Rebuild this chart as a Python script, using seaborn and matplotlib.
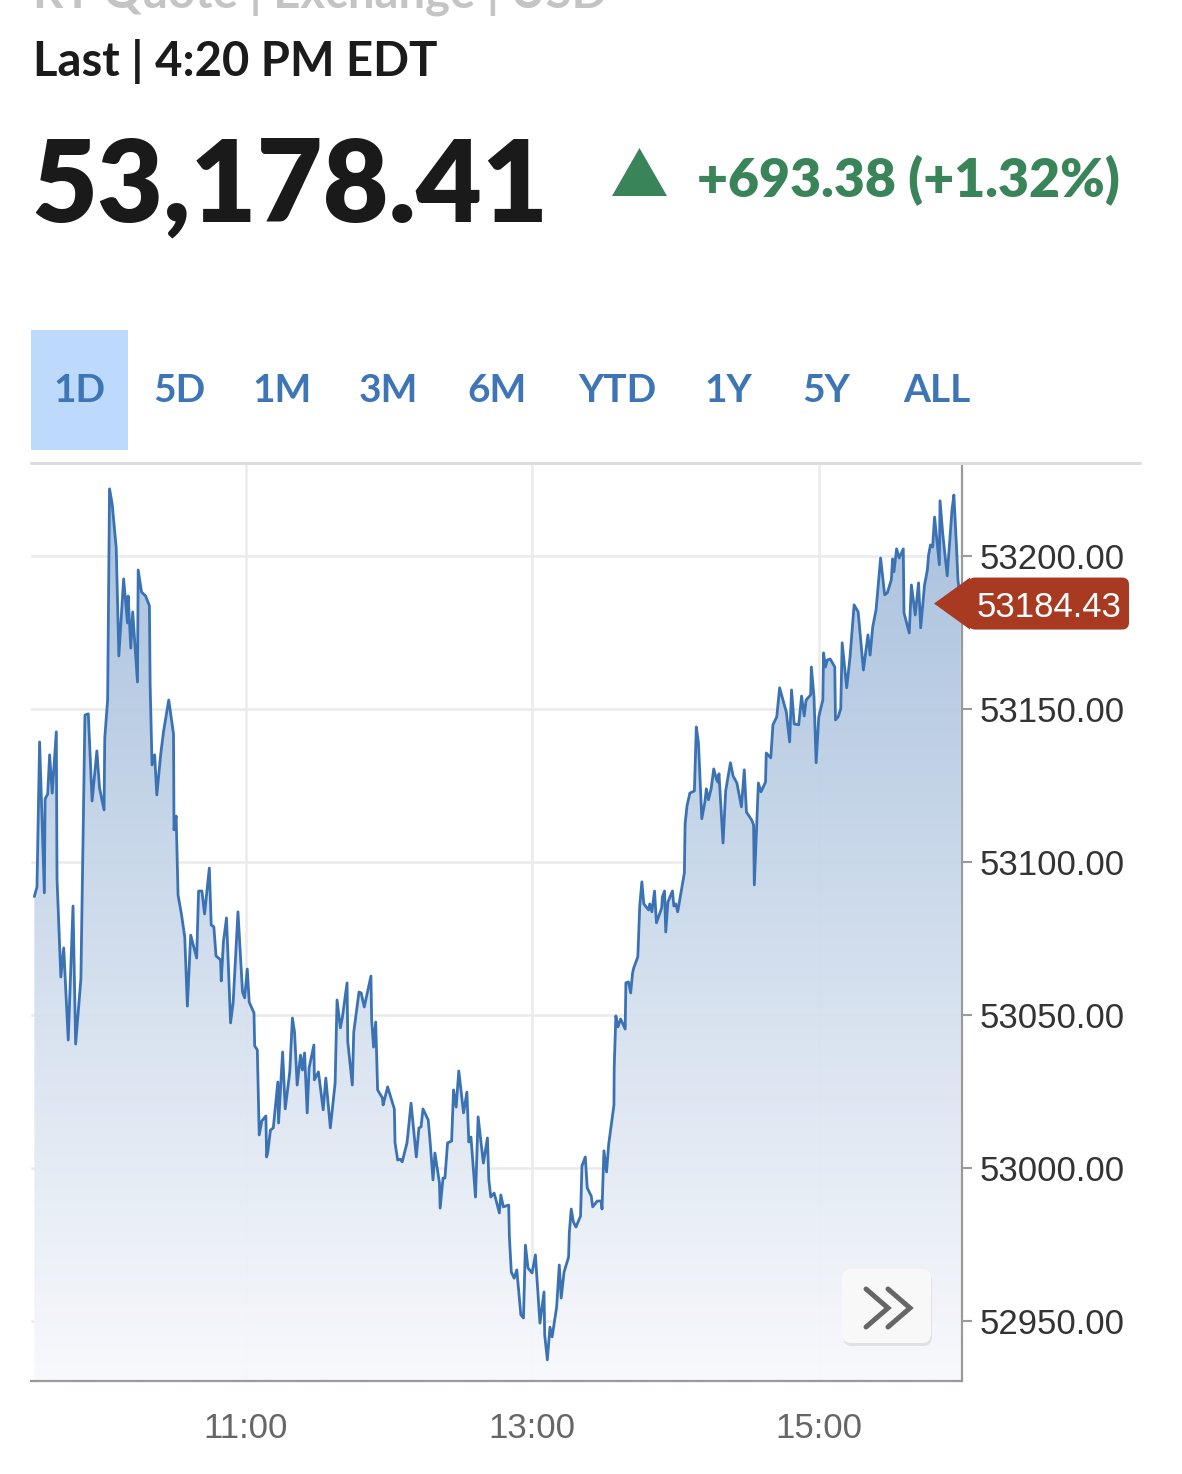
import numpy as np
import pandas as pd
import matplotlib
matplotlib.use("Agg")
import matplotlib.pyplot as plt
from matplotlib.patches import Polygon, FancyBboxPatch, Rectangle
from matplotlib.lines import Line2D
from matplotlib.transforms import IdentityTransform
import seaborn as sns

sns.set_style("white")
plt.rcParams['font.family'] = ['Liberation Sans', 'DejaVu Sans']

# --- data ---
open_minute = 570  # 9:30
minutes_after_open = [
    1.4, 2.5, 3.6, 5.6, 5.9, 7.0, 7.8, 8.9, 10.6, 10.9,
    12.5, 13.7, 15.6, 17.6, 18.7, 20.9, 22.6, 24.0, 25.6, 27.6,
    28.7, 30.6, 30.9, 32.1, 32.9, 34.0, 35.7, 36.8, 38.8, 40.4,
    40.7, 41.8, 42.6, 44.6, 44.9, 46.3, 48.0, 49.6, 49.9, 50.7,
    51.8, 52.7, 54.4, 55.5, 57.7, 59.7, 59.9, 60.8, 61.6, 63.0,
    64.4, 65.5, 66.9, 69.4, 70.2, 71.6, 72.7, 74.7, 75.5, 76.6,
    77.5, 79.4, 79.7, 80.6, 81.9, 83.6, 84.7, 86.7, 88.6, 89.5,
    90.6, 91.4, 93.4, 93.7, 94.8, 95.6, 96.7, 98.4, 98.7, 99.2,
    100.3, 101.5, 103.4, 103.7, 105.4, 106.5, 108.4, 109.5, 110.4, 111.5,
    112.9, 113.7, 114.6, 115.7, 116.5, 118.5, 118.7, 120.4, 122.4, 123.5,
    125.4, 127.4, 128.2, 129.6, 130.4, 132.4, 132.7, 134.6, 135.2, 137.4,
    138.3, 139.6, 142.4, 142.7, 143.5, 144.4, 145.2, 147.2, 147.5, 149.4,
    152.2, 152.5, 153.6, 154.7, 155.5, 157.5, 158.0, 159.2, 160.3, 161.4,
    162.5, 163.4, 164.2, 166.4, 167.2, 168.4, 169.2, 171.1, 171.4, 172.6,
    173.4, 174.5, 176.2, 177.0, 178.1, 179.2, 181.2, 182.6, 183.4, 184.3,
    186.2, 187.3, 189.5, 191.2, 191.8, 192.6, 194.0, 194.8, 196.2, 196.8,
    197.9, 200.1, 200.4, 201.2, 202.4, 203.5, 205.2, 206.3, 207.1, 208.2,
    209.9, 211.3, 213.2, 214.9, 215.2, 216.3, 217.4, 218.3, 220.2, 221.3,
    222.1, 223.3, 225.2, 225.5, 226.3, 227.2, 228.3, 230.2, 230.8, 232.2,
    233.0, 234.7, 235.3, 237.2, 238.9, 239.2, 240.0, 241.1, 242.0, 244.2,
    244.3, 245.0, 245.9, 247.0, 248.9, 249.2, 250.3, 251.2, 252.0, 252.5,
    254.2, 255.0, 255.9, 256.7, 258.7, 259.2, 260.1, 261.2, 262.0, 264.2,
    264.5, 265.4, 265.9, 266.8, 268.7, 269.3, 270.1, 270.9, 273.7, 274.0,
    274.8, 276.0, 277.9, 278.7, 279.6, 281.0, 282.3, 282.9, 283.8, 284.9,
    286.0, 287.1, 287.7, 288.2, 289.9, 291.0, 293.0, 294.1, 295.7, 297.6,
    298.8, 299.7, 301.9, 302.7, 303.0, 304.7, 305.8, 307.7, 308.0, 309.9,
    310.8, 312.4, 313.6, 316.4, 317.8, 318.6, 319.7, 321.6, 322.8, 323.9,
    324.7, 326.6, 326.9, 328.0, 328.9, 330.0, 331.7, 332.0, 332.8, 333.6,
    334.8, 336.7, 337.0, 338.1, 339.2, 339.8, 341.7, 343.1, 344.8, 346.5,
    348.7, 350.6, 351.5, 352.6, 354.0, 355.9, 357.6, 358.7, 360.4, 360.9,
    361.5, 362.6, 363.7, 365.4, 365.7, 367.9, 368.8, 370.4, 371.8, 372.7,
    374.3, 375.5, 376.0, 376.8, 377.7, 378.5, 380.5, 380.8, 381.9, 383.8,
    385.8, 386.6, 387.7, 388.3, 389.5,
]
price = [
    53088.7, 53091.8, 53139.2, 53089.9, 53120.6, 53122.2, 53135.0, 53122.5, 53142.5, 53094.4,
    53062.4, 53071.9, 53041.8, 53085.6, 53040.5, 53061.8, 53148.0, 53148.4, 53119.9, 53136.3,
    53124.2, 53117.0, 53140.5, 53152.9, 53221.9, 53217.0, 53202.6, 53167.3, 53192.5, 53178.1,
    53186.9, 53169.9, 53181.7, 53158.8, 53195.4, 53188.2, 53186.9, 53183.7, 53158.2, 53131.7,
    53135.0, 53121.9, 53135.6, 53142.5, 53152.9, 53141.8, 53110.5, 53115.0, 53089.2, 53083.0,
    53075.5, 53052.9, 53076.1, 53068.6, 53090.5, 53090.5, 53083.0, 53098.0, 53079.4, 53078.8,
    53069.3, 53068.0, 53061.1, 53073.9, 53081.7, 53047.4, 53054.2, 53083.7, 53057.5, 53055.6,
    53065.0, 53054.2, 53050.7, 53039.9, 53038.6, 53010.8, 53015.4, 53017.0, 53003.6, 53005.2,
    53012.4, 53013.1, 53028.1, 53014.7, 53037.9, 53019.3, 53031.4, 53049.0, 53044.4, 53027.1,
    53036.9, 53032.0, 53037.6, 53018.0, 53032.7, 53040.2, 53028.8, 53031.4, 53019.0, 53029.4,
    53013.1, 53027.8, 53054.9, 53045.8, 53049.0, 53060.5, 53041.2, 53027.1, 53044.4, 53057.5,
    53057.2, 53052.6, 53062.7, 53048.4, 53039.5, 53047.7, 53025.5, 53022.9, 53020.6, 53026.5,
    53019.3, 53008.2, 53002.6, 53002.9, 53002.0, 53008.2, 53011.8, 53021.2, 53012.4, 53003.6,
    53013.1, 53013.4, 53019.3, 53015.7, 53008.5, 52996.1, 53004.9, 52995.1, 52986.9, 52996.7,
    52996.7, 53008.2, 53008.8, 53025.5, 53019.9, 53031.7, 53018.0, 53024.8, 53008.5, 53010.1,
    52990.5, 53016.7, 53001.6, 53009.8, 52996.1, 52990.5, 52991.8, 52989.5, 52985.3, 52991.2,
    52987.3, 52987.9, 52977.5, 52966.0, 52964.0, 52966.7, 52952.0, 52951.0, 52974.8, 52967.3,
    52965.7, 52971.6, 52949.3, 52959.5, 52945.4, 52937.3, 52948.0, 52944.8, 52954.6, 52968.3,
    52957.5, 52966.0, 52970.9, 52978.8, 52986.6, 52982.4, 52980.7, 52984.3, 53000.7, 53003.6,
    52993.5, 52990.8, 52987.3, 52989.2, 52989.2, 52986.6, 53005.6, 52998.7, 53007.8, 53020.6,
    53032.7, 53049.7, 53046.1, 53048.7, 53045.4, 53060.5, 53060.8, 53057.2, 53063.7, 53065.4,
    53069.0, 53085.6, 53093.5, 53086.3, 53084.3, 53086.3, 53083.7, 53090.5, 53080.1, 53085.0,
    53088.6, 53090.5, 53077.1, 53086.9, 53090.5, 53085.6, 53086.3, 53083.7, 53096.4, 53112.4,
    53118.3, 53122.5, 53123.2, 53144.1, 53138.9, 53114.1, 53119.6, 53123.9, 53120.3, 53123.9,
    53130.4, 53127.1, 53126.1, 53128.8, 53106.2, 53123.2, 53132.4, 53128.1, 53125.8, 53118.0,
    53130.1, 53116.3, 53113.7, 53112.1, 53092.5, 53125.8, 53122.9, 53126.1, 53135.6, 53134.0,
    53144.8, 53147.4, 53156.9, 53149.0, 53139.2, 53156.2, 53145.1, 53144.8, 53154.2, 53147.7,
    53152.9, 53154.6, 53163.7, 53153.9, 53132.4, 53147.4, 53152.9, 53168.3, 53163.7, 53166.0,
    53166.3, 53163.7, 53146.4, 53147.4, 53150.0, 53171.6, 53156.9, 53167.0, 53184.0, 53181.7,
    53162.7, 53174.2, 53167.6, 53176.8, 53182.4, 53199.3, 53187.3, 53187.9, 53192.2, 53199.0,
    53194.8, 53202.3, 53199.3, 53202.3, 53181.4, 53174.8, 53190.5, 53180.7, 53191.2, 53176.5,
    53190.5, 53195.4, 53200.3, 53203.6, 53202.9, 53212.7, 53197.1, 53218.0, 53207.5, 53193.5,
    53215.0, 53219.9, 53202.9, 53192.2, 53184.43,
]
assert len(minutes_after_open) == len(price)

last_price = 53184.43
headline_value = "53,178.41"
change_text = "+693.38 (+1.32%)"
y_ticks = [52950, 53000, 53050, 53100, 53150, 53200]
x_ticks = [660, 780, 900]
x_tick_labels = ["11:00", "13:00", "15:00"]
tabs = ["1D", "5D", "1M", "3M", "6M", "YTD", "1Y", "5Y", "ALL"]

# --- layout (pixels) ---
W, H = 1182, 1474
tab_centers = [79, 179, 282, 388, 497, 617, 728, 826, 937]
LINE = "#3a72b4"
GREEN = "#3a845a"
RED = "#a83a22"


def fx(x):
    return x / W


def fy(y):
    return 1 - y / H


fig = plt.figure(figsize=(W / 100, H / 100), dpi=100)
fig.patch.set_facecolor("white")

ax = fig.add_axes([fx(31), fy(1381), (962 - 31) / W, (1381 - 465) / H])
ymin, ymax = 52930.4, 53229.7
xmin, xmax = 570, 960

df = pd.DataFrame({"clock": open_minute + np.array(minutes_after_open), "price": price})
sns.lineplot(data=df, x="clock", y="price", ax=ax, color=LINE, linewidth=2.0,
             estimator=None, sort=False, zorder=5)

# gradient area under the line
fill = ax.fill_between(df["clock"], df["price"], ymin, facecolor="none", edgecolor="none")
top_c = np.array([160, 187, 218]) / 255
bot_c = np.array([248, 249, 252]) / 255
t = np.linspace(0, 1, 256)[:, None]
grad = (top_c[None, :] * (1 - t) + bot_c[None, :] * t)[:, None, :]
img = ax.imshow(grad, extent=[xmin, xmax, ymin, ymax], aspect="auto", origin="upper",
                zorder=2, alpha=0.93, interpolation="bilinear")
img.set_clip_path(fill.get_paths()[0], ax.transData)

ax.set_xlim(xmin, xmax)
ax.set_ylim(ymin, ymax)
ax.set_xlabel("")
ax.set_ylabel("")

ax.set_yticks(y_ticks)
ax.set_yticklabels([f"{v:.2f}" for v in y_ticks])
ax.set_xticks(x_ticks)
ax.set_xticklabels(x_tick_labels)
ax.grid(True, color="#ebebeb", linewidth=1.8)
ax.set_axisbelow(True)

for s in ["left", "top"]:
    ax.spines[s].set_visible(False)
for s in ["right", "bottom"]:
    ax.spines[s].set_color("#9a9a9a")
    ax.spines[s].set_linewidth(1.6)

ax.yaxis.tick_right()
ax.tick_params(axis="y", length=7.2, width=1.5, color="#9a9a9a", pad=5.8,
               labelsize=25, labelcolor="#333333")
ax.tick_params(axis="x", length=12, width=1.5, color="#9a9a9a", pad=10,
               labelsize=25, labelcolor="#666666")

# top separator line
fig.add_artist(Line2D([fx(31), fx(1140)], [fy(463), fy(463)], color="#dddddd", linewidth=2.2))

# last price flag
yd = ax.transData.transform((xmax, last_price))[1]
ident = IdentityTransform()
fig.add_artist(Polygon([(934, yd), (970, yd + 26), (970, yd - 26)], closed=True,
                       facecolor=RED, edgecolor="none", transform=ident))
fig.add_artist(FancyBboxPatch((968, yd - 26), 161, 52, boxstyle="round,pad=0,rounding_size=7",
                              facecolor=RED, edgecolor="none", transform=ident))
fig.text(1049, yd, f"{last_price:.2f}", transform=ident, ha="center", va="center_baseline",
         color="white", fontsize=25)

# scroll button
fig.add_artist(FancyBboxPatch((843, H - 1346), 89, 74, boxstyle="round,pad=0,rounding_size=9",
                              facecolor="#dcdcdc", edgecolor="none", transform=ident, alpha=0.8))
fig.add_artist(FancyBboxPatch((842, H - 1343), 89, 74, boxstyle="round,pad=0,rounding_size=9",
                              facecolor="#f8f8f8", edgecolor="none", transform=ident))
for dx in (0, 22):
    fig.add_artist(Line2D([866 + dx, 888 + dx, 866 + dx], [H - 1289, H - 1308, H - 1327],
                          color="#666666", linewidth=3.6, transform=ident,
                          solid_joinstyle="miter"))

# header
hfont = ["Lato", "DejaVu Sans"]
fig.text(fx(33), fy(8), "RT Quote | Exchange | USD", family=hfont, fontsize=34,
         fontweight="bold", color="#c4c4c4", va="baseline")
fig.text(fx(33), fy(76), "Last | 4:20 PM EDT", family=hfont, fontsize=34,
         fontweight="bold", color="#1b1b1b", va="baseline")
fig.text(fx(31), fy(222), headline_value, family=hfont, fontsize=82,
         fontweight="heavy", color="#1a1a1a", va="baseline")
fig.add_artist(Polygon([(fx(612), fy(196)), (fx(667), fy(196)), (fx(639.5), fy(148))],
                       closed=True, facecolor=GREEN, edgecolor="none"))
fig.text(fx(697), fy(197), change_text, family=hfont, fontsize=38.5,
         fontweight="heavy", color=GREEN, va="baseline")

# range tabs
fig.add_artist(Rectangle((fx(31), fy(450)), (128 - 31) / W, (450 - 330) / H,
                         facecolor="#bdd9fb", edgecolor="none"))
for label, cx in zip(tabs, tab_centers):
    fig.text(fx(cx), fy(391), label, family=hfont, fontsize=28, fontweight="bold",
             color="#3d75b7", ha="center", va="center")

fig.savefig("out.png", dpi=100)
